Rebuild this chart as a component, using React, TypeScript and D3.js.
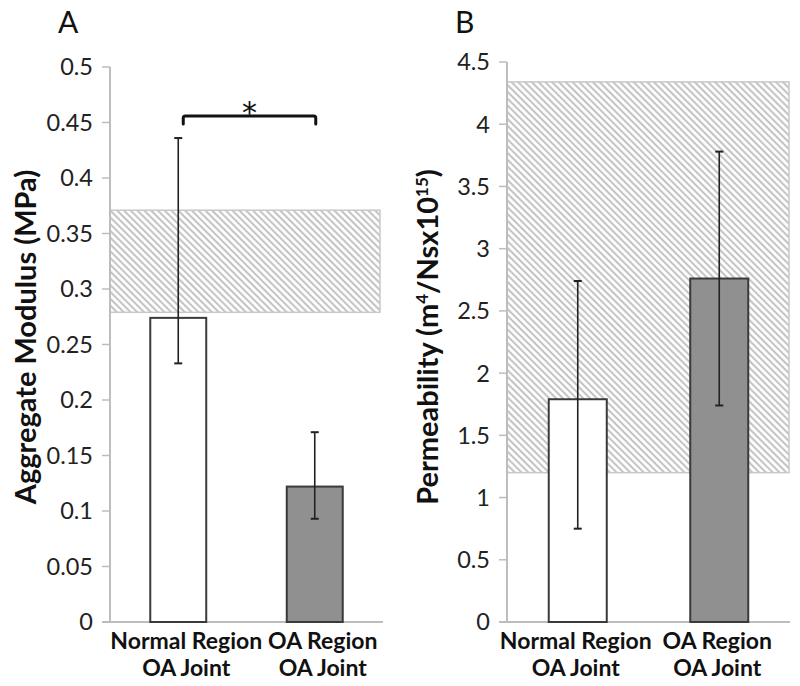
import React from "react";
import * as d3 from "d3";

const categories = ["Normal Region|OA Joint", "OA Region|OA Joint"];
const barFills = ["#ffffff", "#909090"];

const modulusMean = [0.274, 0.122];
const modulusLow = [0.233, 0.093];
const modulusHigh = [0.436, 0.171];
const modulusRange = [0.279, 0.371];
const modulusTicks = [0, 0.05, 0.1, 0.15, 0.2, 0.25, 0.3, 0.35, 0.4, 0.45, 0.5];

const permMean = [1.79, 2.76];
const permLow = [0.75, 1.74];
const permHigh = [2.74, 3.78];
const permRange = [1.2, 4.34];
const permTicks = [0, 0.5, 1, 1.5, 2, 2.5, 3, 3.5, 4, 4.5];

const FONT = "Lato, 'Open Sans', sans-serif";

interface PanelProps {
  letter: string;
  x0: number;
  x1: number;
  yTopPx: number;
  yMax: number;
  ticks: number[];
  mean: number[];
  low: number[];
  high: number[];
  range: number[];
  bandX1: number;
  labelDx: number;
  yLabel: React.ReactNode;
  yLabelX: number;
  letterX: number;
  bracket?: boolean;
}

const Panel: React.FC<PanelProps> = (p) => {
  const y0 = 622;
  const y = d3.scaleLinear().domain([0, p.yMax]).range([y0, p.yTopPx]);
  const x = d3.scaleBand<string>().domain(categories).range([p.x0, p.x1]).paddingInner(0.59).paddingOuter(0.295);
  const fmt = (v: number) => String(+v.toFixed(2));

  return (
    <g>
      <text x={p.letterX} y={33} fontFamily={FONT} fontSize={30} fill="#111">
        {p.letter}
      </text>

      {/* reference range band */}
      <rect
        x={p.x0}
        y={y(p.range[1])}
        width={p.bandX1 - p.x0}
        height={y(p.range[0]) - y(p.range[1])}
        fill="url(#hatch)"
        stroke="#c8c8c8"
        strokeWidth={1.5}
      />

      {/* axes */}
      <line x1={p.x0} x2={p.x0} y1={p.yTopPx} y2={y0} stroke="#bdbdbd" strokeWidth={2} />
      <line x1={p.x0 - 8} x2={p.x1} y1={y0} y2={y0} stroke="#bdbdbd" strokeWidth={2} />
      {p.ticks.map((t) => (
        <g key={t}>
          <line x1={p.x0 - 8} x2={p.x0} y1={y(t)} y2={y(t)} stroke="#bdbdbd" strokeWidth={1.5} />
          <text
            x={p.x0 - 17}
            y={y(t)}
            dy="0.36em"
            textAnchor="end"
            fontFamily={FONT}
            fontSize={23.5}
            fill="#222"
          >
            {fmt(t)}
          </text>
        </g>
      ))}

      {/* bars */}
      {categories.map((c, i) => (
        <rect
          key={c}
          x={x(c)}
          y={y(p.mean[i])}
          width={x.bandwidth()}
          height={y0 - y(p.mean[i])}
          fill={barFills[i]}
          stroke="#3a3a3a"
          strokeWidth={2}
        />
      ))}

      {/* error bars */}
      {categories.map((c, i) => {
        const cx = (x(c) as number) + x.bandwidth() / 2;
        return (
          <g key={c} stroke="#222" strokeWidth={1.6}>
            <line x1={cx} x2={cx} y1={y(p.low[i])} y2={y(p.high[i])} />
            <line x1={cx - 4} x2={cx + 4} y1={y(p.low[i])} y2={y(p.low[i])} strokeWidth={2} />
            <line x1={cx - 4} x2={cx + 4} y1={y(p.high[i])} y2={y(p.high[i])} strokeWidth={2} />
          </g>
        );
      })}

      {/* category labels */}
      {categories.map((c) => {
        const cx = (x(c) as number) + x.bandwidth() / 2 + p.labelDx;
        const lines = c.split("|");
        return (
          <text key={c} textAnchor="middle" fontFamily={FONT} fontWeight={700} fontSize={23} fill="#111">
            {lines.map((l, k) => (
              <tspan key={k} x={cx} y={649 + k * 27}>
                {l}
              </tspan>
            ))}
          </text>
        );
      })}

      {/* y label */}
      <text
        transform={`translate(${p.yLabelX},337) rotate(-90)`}
        textAnchor="middle"
        dy="0.35em"
        fontFamily={FONT}
        fontWeight={700}
        fontSize={29}
        fill="#111"
      >
        {p.yLabel}
      </text>

      {p.bracket && (() => {
        const xa = (x(categories[0]) as number) + x.bandwidth() / 2 + 5;
        const xb = (x(categories[1]) as number) + x.bandwidth() / 2 + 1;
        const yb = 116;
        return (
          <g>
            <path
              d={`M${xa},${yb + 8} L${xa},${yb + 2} Q${xa},${yb} ${xa + 2},${yb} L${xb - 2},${yb} Q${xb},${yb} ${xb},${yb + 2} L${xb},${yb + 8}`}
              fill="none"
              stroke="#111"
              strokeWidth={3}
              strokeLinecap="round"
            />
            <text x={(xa + xb) / 2} y={123} textAnchor="middle" fontFamily="'DejaVu Sans', sans-serif" fontSize={30} fill="#111">
              *
            </text>
          </g>
        );
      })()}
    </g>
  );
};

export default function App() {
  return (
    <svg width={800} height={686} style={{ position: "absolute", left: 0, top: 0, background: "#fff" }}>
      <defs>
        <pattern id="hatch" patternUnits="userSpaceOnUse" width={4.8} height={4.8} patternTransform="rotate(-45)">
          <rect width={4.8} height={4.8} fill="#ffffff" />
          <line x1={1.2} x2={1.2} y1={0} y2={4.8} stroke="#bbbbbb" strokeWidth={1.8} />
        </pattern>
      </defs>
      <rect width={800} height={686} fill="#fff" />
      <Panel
        letter="A"
        letterX={58}
        x0={110}
        x1={383}
        yTopPx={67}
        yMax={0.5}
        ticks={modulusTicks}
        mean={modulusMean}
        low={modulusLow}
        high={modulusHigh}
        range={modulusRange}
        bandX1={380}
        labelDx={8}
        yLabelX={26}
        yLabel="Aggregate Modulus (MPa)"
        bracket
      />
      <Panel
        letter="B"
        letterX={455}
        x0={507}
        x1={790}
        yTopPx={62}
        yMax={4.5}
        ticks={permTicks}
        mean={permMean}
        low={permLow}
        high={permHigh}
        range={permRange}
        bandX1={789}
        labelDx={-2}
        yLabelX={428}
        yLabel={
          <>
            Permeability (m<tspan dy={-10} fontSize={17}>4</tspan>
            <tspan dy={10}>/Nsx10</tspan>
            <tspan dy={-10} fontSize={17}>15</tspan>
            <tspan dy={10}>)</tspan>
          </>
        }
      />
    </svg>
  );
}
